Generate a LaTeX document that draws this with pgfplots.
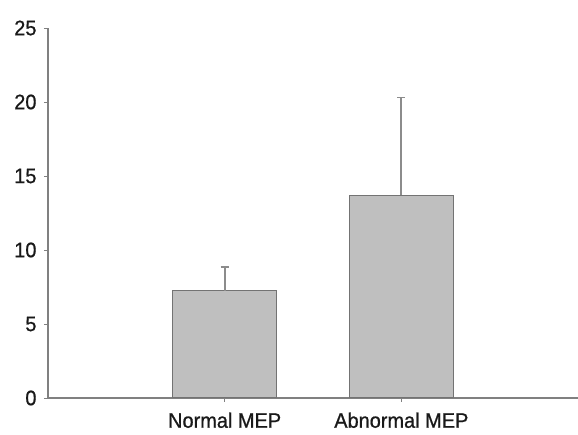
\documentclass[border=0pt]{standalone}
\usepackage{pgfplots}
\pgfplotsset{compat=1.18}
\usepackage{fontspec}
\setmainfont{Liberation Sans}[UprightFeatures={FakeBold=0.8,FakeStretch=0.95}]
\begin{document}
\fontsize{22}{26}\selectfont
\begin{tikzpicture}
\useasboundingbox (-48pt,-37pt) rectangle (530pt,398pt);
\begin{axis}[
 scale only axis, width=530pt, height=370pt,
 xmin=-1, xmax=2, ymin=0, ymax=25,
 axis x line=bottom, axis y line=left,
 axis line style={-, draw=black!50, line width=1.4pt},
 xtick={0,1}, xticklabels={Normal MEP, Abnormal MEP},
 ytick={0,5,...,25},
 tick align=outside, major tick length=4pt,
 tick style={draw=black!50, line width=0.8pt},
 ticklabel style={font=\fontsize{21}{25}\selectfont, text=black!90},
 xticklabel style={yshift=-3pt},
 /pgf/number format/assume math mode=true,
 ybar, bar width=0.59,
]
\addplot[fill=black!25, draw=black!55, line width=1.3pt,
  error bars/.cd, y dir=plus, y explicit,
  error bar style={draw=black!45, line width=1.8pt},
  error mark options={rotate=90, mark size=4pt, line width=1.8pt, draw=black!45}]
  coordinates {(0,7.25) +- (0,1.6) (1,13.7) +- (0,6.6)};
\end{axis}
\end{tikzpicture}
\end{document}
